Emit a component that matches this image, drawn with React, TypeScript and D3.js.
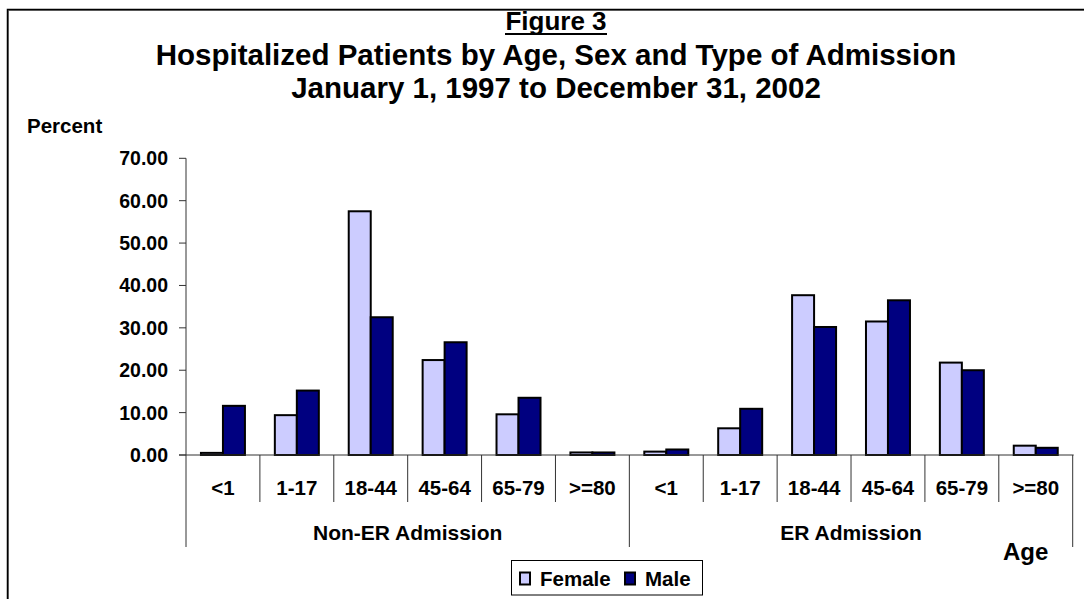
import React from "react";
import * as d3 from "d3";

const ageGroups = ["<1", "1-17", "18-44", "45-64", "65-79", ">=80"];
const admissionTypes = ["Non-ER Admission", "ER Admission"];
const sexes = ["Female", "Male"];

const femaleNonER = [0.5, 9.4, 57.5, 22.4, 9.6, 0.6];
const maleNonER = [11.6, 15.2, 32.5, 26.6, 13.5, 0.6];
const femaleER = [0.8, 6.3, 37.7, 31.5, 21.8, 2.2];
const maleER = [1.3, 10.9, 30.2, 36.5, 20.0, 1.7];

const yTicks = [0, 10, 20, 30, 40, 50, 60, 70];

const colors: Record<string, string> = { Female: "#CCCCFF", Male: "#000080" };
const font = "'Liberation Sans', Arial, Helvetica, sans-serif";

const App = () => {
  const width = 1084;
  const height = 599;
  const plotLeft = 186;
  const plotRight = 1072.7;
  const plotTop = 158.3;
  const plotBottom = 455;

  // one row per bar group: admission type x age group
  const rows = admissionTypes.flatMap((type, ti) =>
    ageGroups.map((age, ai) => ({
      key: `${type}|${age}`,
      type,
      age,
      Female: ti === 0 ? femaleNonER[ai] : femaleER[ai],
      Male: ti === 0 ? maleNonER[ai] : maleER[ai],
    }))
  );

  const x0 = d3
    .scaleBand()
    .domain(rows.map((d) => d.key))
    .range([plotLeft, plotRight])
    .paddingInner(0)
    .paddingOuter(0);

  const x1 = d3
    .scaleBand()
    .domain(sexes)
    .range([0, x0.bandwidth()])
    .paddingInner(0)
    .paddingOuter(0.68);

  const y = d3.scaleLinear().domain([0, 70]).range([plotBottom, plotTop]);

  const step = x0.step();
  const groupEdges = admissionTypes.map((t, i) => plotLeft + i * 6 * step);

  return (
    <svg
      width={width}
      height={height}
      style={{ position: "absolute", left: 0, top: 0, background: "#fff" }}
      fontFamily={font}
      fontWeight="bold"
    >
      <rect x={0} y={0} width={width} height={height} fill="#fff" />
      {/* outer frame */}
      <rect x={8.5} y={10.5} width={1200} height={700} fill="none" stroke="#777" strokeWidth={1} />
      <rect x={7.5} y={9.5} width={1200} height={700} fill="none" stroke="#000" strokeWidth={1.5} />

      {/* titles */}
      <text x={556} y={30} textAnchor="middle" fontSize={26}>
        Figure 3
      </text>
      <line x1={505} x2={607} y1={34} y2={34} stroke="#000" strokeWidth={2} />
      <text x={556} y={65} textAnchor="middle" fontSize={29.5}>
        Hospitalized Patients by Age, Sex and Type of Admission
      </text>
      <text x={556} y={98} textAnchor="middle" fontSize={29.5}>
        January 1, 1997 to December 31, 2002
      </text>

      <text x={27} y={132.7} fontSize={20.5}>
        Percent
      </text>

      {/* y axis */}
      <line x1={plotLeft} x2={plotLeft} y1={plotTop} y2={plotBottom} stroke="#333" strokeWidth={1} />
      {yTicks.map((t) => (
        <g key={t}>
          <line x1={plotLeft - 7} x2={plotLeft} y1={y(t)} y2={y(t)} stroke="#333" strokeWidth={1} />
          <text x={168} y={y(t)} dy="0.36em" textAnchor="end" fontSize={19.5}>
            {t.toFixed(2)}
          </text>
        </g>
      ))}

      {/* bars */}
      {rows.map((r) => (
        <g key={r.key} transform={`translate(${x0(r.key)},0)`}>
          {sexes.map((s) => (
            <rect
              key={s}
              x={x1(s)}
              y={y((r as any)[s])}
              width={x1.bandwidth()}
              height={plotBottom - y((r as any)[s])}
              fill={colors[s]}
              stroke="#000"
              strokeWidth={2}
            />
          ))}
        </g>
      ))}

      {/* x axis */}
      <line x1={plotLeft - 7} x2={plotRight + 1} y1={plotBottom} y2={plotBottom} stroke="#333" strokeWidth={1} />
      {rows.map((r, i) => (
        <g key={r.key}>
          {i % 6 !== 0 && (
            <line
              x1={x0(r.key)}
              x2={x0(r.key)}
              y1={plotBottom}
              y2={502}
              stroke="#333"
              strokeWidth={1}
            />
          )}
          <text
            x={(x0(r.key) as number) + step / 2}
            y={494.5}
            textAnchor="middle"
            fontSize={20.5}
          >
            {r.age}
          </text>
        </g>
      ))}
      {[...groupEdges, plotRight].map((gx, i) => (
        <line key={i} x1={gx} x2={gx} y1={plotBottom} y2={547} stroke="#333" strokeWidth={1} />
      ))}
      {admissionTypes.map((t, i) => (
        <text
          key={t}
          x={groupEdges[i] + 3 * step}
          y={540}
          textAnchor="middle"
          fontSize={21}
        >
          {t}
        </text>
      ))}

      <text x={1003} y={560} fontSize={24}>
        Age
      </text>

      {/* legend */}
      <rect x={511.5} y={560.5} width={191} height={34.5} fill="#fff" stroke="#000" strokeWidth={1} />
      {sexes.map((s, i) => {
        const lx = i === 0 ? 520 : 625;
        return (
          <g key={s}>
            <rect x={lx} y={572.5} width={10} height={12} fill={colors[s]} stroke="#000" strokeWidth={2} />
            <text x={lx + 20} y={585.5} fontSize={20.5}>
              {s}
            </text>
          </g>
        );
      })}
    </svg>
  );
};

export default App;
